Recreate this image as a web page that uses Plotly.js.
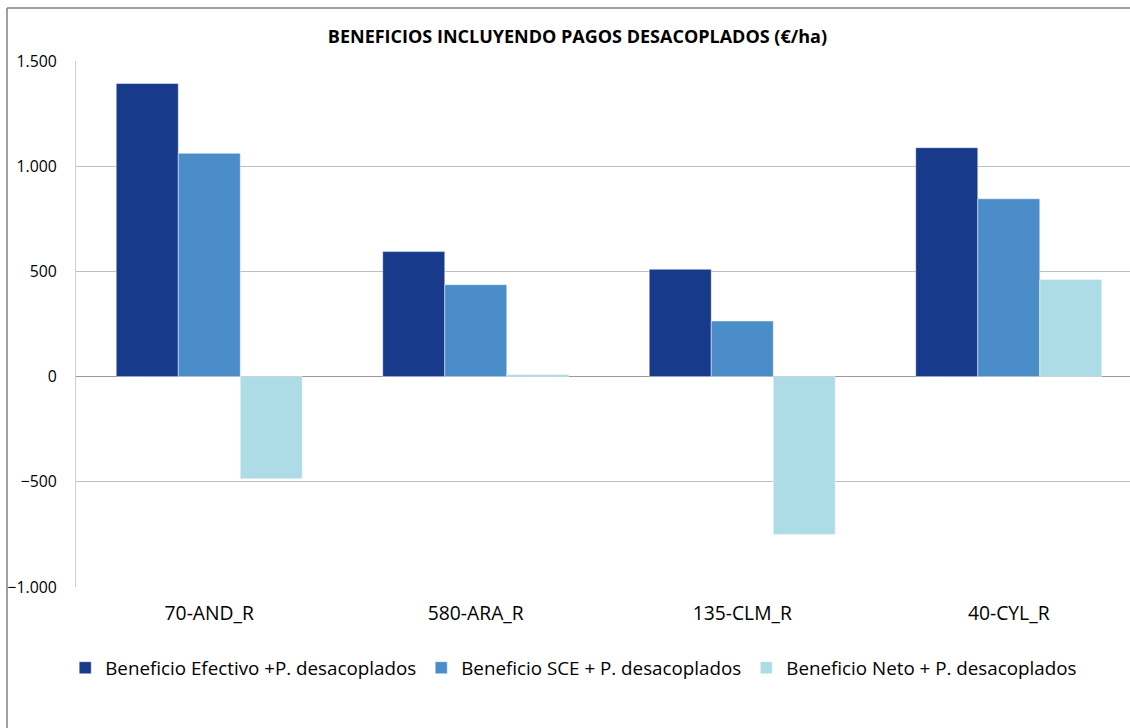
<!DOCTYPE html>
<html>
<head>
<meta charset="utf-8">
<script src="https://cdn.plot.ly/plotly-3.0.1.min.js"></script>
<style>
html,body{margin:0;padding:0;overflow:hidden;background:#fff;}
#chart{width:1130px;height:728px;}
</style>
</head>
<body>
<div id="chart"></div>
<script>
const categories = ['70-AND_R', '580-ARA_R', '135-CLM_R', '40-CYL_R'];
const seriesNames = ['Beneficio Efectivo +P. desacoplados', 'Beneficio SCE + P. desacoplados', 'Beneficio Neto + P. desacoplados'];
const efectivo = [1393, 594, 510, 1088];
const sce = [1061, 437, 264, 845];
const neto = [-486, 10, -750, 461];
const colors = ['#173A8A', '#4A8DC8', '#ADDBE6'];
const yTicks = [-1000, -500, 0, 500, 1000, 1500];

const FONT = 'Open Sans, sans-serif';
const vals = [efectivo, sce, neto];
const traces = vals.map((v, i) => ({
  type: 'bar',
  name: seriesNames[i],
  x: [0, 1, 2, 3],
  y: v,
  marker: {color: colors[i], line: {color: 'rgba(255,255,255,0.6)', width: 0.75}},
  hoverinfo: 'y'
}));

const layout = {
  width: 1130, height: 728,
  margin: {l: 76, r: 0, t: 61, b: 141, pad: 0},
  paper_bgcolor: '#ffffff', plot_bgcolor: '#ffffff',
  separators: ',.',
  barmode: 'group', bargap: 0.302, bargroupgap: 0,
  font: {family: FONT, size: 18, color: '#000'},
  title: {
    text: '<b>BENEFICIOS INCLUYENDO PAGOS DESACOPLADOS (€/ha)</b>',
    font: {family: FONT, size: 18, color: '#000'},
    xref: 'container', x: 0.511, xanchor: 'center',
    yref: 'container', y: 1 - 37/728, yanchor: 'middle'
  },
  xaxis: {
    range: [-0.5, 3.455],
    tickmode: 'array', tickvals: [0, 1, 2, 3], ticktext: categories,
    showgrid: false, zeroline: false, showline: false, ticks: '',
    ticklabelstandoff: 13,
    tickfont: {family: FONT, size: 19.3, color: '#000'},
    fixedrange: true
  },
  yaxis: {
    range: [-1000, 1500],
    tickmode: 'array', tickvals: yTicks,
    tickformat: ',d',
    showgrid: true, gridcolor: '#bfbfbf', gridwidth: 1,
    zeroline: true, zerolinecolor: '#9a9a9a', zerolinewidth: 1.5,
    showline: true, linecolor: '#d0d0d0', linewidth: 1,
    ticks: '', ticklabelstandoff: 15,
    tickfont: {family: FONT, size: 15.8, color: '#000'},
    fixedrange: true
  },
  legend: {
    orientation: 'h',
    xref: 'container', x: 0.5077, xanchor: 'center',
    yref: 'container', y: 1 - 668/728, yanchor: 'middle',
    font: {family: FONT, size: 18.8, color: '#000'},
    itemclick: false, itemdoubleclick: false
  },
  shapes: [
    {type: 'line', xref: 'paper', yref: 'paper', x0: -69/1054, x1: -69/1054, y0: 579/526, y1: -0.3,
     line: {color: '#808080', width: 1.5}},
    {type: 'line', xref: 'paper', yref: 'paper', x0: -69/1054, x1: 1.05, y0: 579/526, y1: 579/526,
     line: {color: '#808080', width: 1.5}}
  ],
  showlegend: true
};

Plotly.newPlot('chart', traces, layout, {displayModeBar: false, staticPlot: true});
</script>
</body>
</html>
